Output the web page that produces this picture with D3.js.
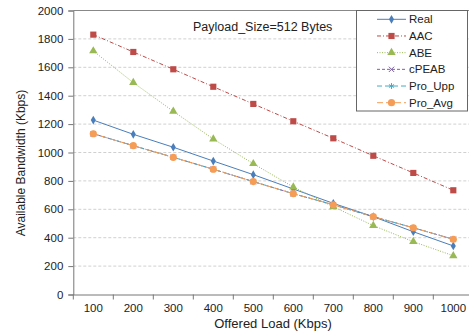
<!DOCTYPE html>
<html lang="en">
<head>
<meta charset="UTF-8">
<title>Available Bandwidth</title>
<style>
    body { margin: 0; background: #fff; }
    text { font-family: "Liberation Sans", Arial, sans-serif; fill: #222; }
    .grid line { stroke: #d0d0d0; stroke-dasharray: 3,2; }
</style>
</head>
<body>
<svg id="chart" width="469" height="335"></svg>
<script src="https://cdn.jsdelivr.net/npm/d3@7"></script>
<script>
    var loads = [100, 200, 300, 400, 500, 600, 700, 800, 900, 1000];
    var yTicks = [0, 200, 400, 600, 800, 1000, 1200, 1400, 1600, 1800, 2000];

    var real   = [1228, 1128, 1037, 940, 844, 743, 642, 548, 442, 342];
    var aac    = [1830, 1708, 1586, 1463, 1342, 1220, 1100, 977, 856, 734];
    var abe    = [1715, 1492, 1290, 1095, 921, 757, 618, 485, 372, 273];
    var cpeab  = [1132, 1048, 966, 882, 795, 710, 632, 548, 470, 389];
    var proUpp = [1132, 1048, 966, 882, 795, 710, 632, 548, 470, 389];
    var proAvg = [1132, 1048, 966, 882, 795, 710, 632, 548, 470, 389];

    var seriesNames = ['Real', 'AAC', 'ABE', 'cPEAB', 'Pro_Upp', 'Pro_Avg'];

    var series = [
        { name: 'Real',    values: real,   color: '#4a7ebb', dash: null,      shape: 'diamond' },
        { name: 'AAC',     values: aac,    color: '#be4b48', dash: '4,2,1,2', shape: 'square' },
        { name: 'ABE',     values: abe,    color: '#98b954', dash: '1,1.5',   shape: 'triangle' },
        { name: 'cPEAB',   values: cpeab,  color: '#7d60a0', dash: '3,2',     shape: 'cross' },
        { name: 'Pro_Upp', values: proUpp, color: '#46aac5', dash: '5,3',     shape: 'star' },
        { name: 'Pro_Avg', values: proAvg, color: '#f59d56', dash: '6,3',     shape: 'circle' }
    ];

    var svg = d3.select('#chart');
    var pLeft = 73.3, pRight = 473.3, pTop = 10.5, pBottom = 294.5;

    var x = d3.scaleBand().domain(loads).range([pLeft, pRight]);
    var y = d3.scaleLinear().domain([0, 2000]).range([pBottom, pTop]);
    var cx = function (d) { return x(d) + x.bandwidth() / 2; };

    // gridlines
    svg.append('g').attr('class', 'grid')
        .selectAll('line')
        .data(yTicks.slice(1, -1))
        .enter().append('line')
        .attr('x1', pLeft).attr('x2', pRight)
        .attr('y1', d => y(d)).attr('y2', d => y(d));

    // plot border top / right
    svg.append('path')
        .attr('d', 'M' + pLeft + ',' + pTop + 'H' + pRight + 'V' + pBottom)
        .attr('fill', 'none').attr('stroke', '#888');

    // y axis
    var yAxis = svg.append('g')
        .attr('transform', 'translate(' + pLeft + ',0)')
        .call(d3.axisLeft(y).tickValues(yTicks).tickFormat(d3.format('d')).tickSize(5).tickPadding(5));
    yAxis.select('.domain').attr('stroke', '#777');
    yAxis.selectAll('.tick line').attr('stroke', '#777');
    yAxis.selectAll('text').style('font-size', '11.5px').attr('fill', '#222');

    // x axis: labels centred in bands, ticks on band boundaries
    var xAxis = svg.append('g')
        .attr('transform', 'translate(0,' + pBottom + ')')
        .call(d3.axisBottom(x).tickSize(0).tickPadding(9));
    xAxis.select('.domain').attr('stroke', '#777');
    xAxis.selectAll('text').style('font-size', '11.5px').attr('fill', '#222');
    xAxis.selectAll('.bound')
        .data(loads.map(d => x(d)).concat([pRight]))
        .enter().append('line')
        .attr('x1', d => d).attr('x2', d => d)
        .attr('y1', 0).attr('y2', 5)
        .attr('stroke', '#777');

    // axis titles
    svg.append('text')
        .attr('x', 273).attr('y', 328)
        .attr('text-anchor', 'middle')
        .style('font-size', '13px')
        .text('Offered Load (Kbps)');

    svg.append('text')
        .attr('transform', 'translate(25,163) rotate(-90)')
        .attr('text-anchor', 'middle')
        .style('font-size', '12px')
        .text('Available Bandwidth (Kbps)');

    svg.append('text')
        .attr('x', 193).attr('y', 31)
        .style('font-size', '12.5px')
        .text('Payload_Size=512 Bytes');

    // marker drawing
    function marker(g, shape, color) {
        if (shape === 'diamond') {
            g.append('path').attr('d', d3.symbol(d3.symbolDiamond, 22)()).attr('fill', color);
        } else if (shape === 'square') {
            g.append('path').attr('d', d3.symbol(d3.symbolSquare, 38)()).attr('fill', color);
        } else if (shape === 'triangle') {
            g.append('path').attr('d', d3.symbol(d3.symbolTriangle, 30)()).attr('fill', color);
        } else if (shape === 'cross') {
            g.append('path').attr('d', d3.symbol(d3.symbolX, 20)())
                .attr('fill', 'none').attr('stroke', color).attr('stroke-width', 1);
        } else if (shape === 'star') {
            g.append('path').attr('d', d3.symbol(d3.symbolAsterisk, 24)())
                .attr('fill', 'none').attr('stroke', color).attr('stroke-width', 1);
        } else {
            g.append('circle').attr('r', 3.6).attr('fill', color);
        }
    }

    var line = d3.line()
        .x((d, i) => cx(loads[i]))
        .y(d => y(d));

    series.forEach(function (s) {
        svg.append('path')
            .attr('d', line(s.values))
            .attr('fill', 'none')
            .attr('stroke', s.color)
            .attr('stroke-width', 1)
            .attr('stroke-dasharray', s.dash);

        s.values.forEach(function (v, i) {
            var g = svg.append('g')
                .attr('transform', 'translate(' + cx(loads[i]) + ',' + y(v) + ')');
            marker(g, s.shape, s.color);
        });
    });

    // legend
    var legend = svg.append('g');
    legend.append('rect')
        .attr('x', 356.5).attr('y', 10.5)
        .attr('width', 111).attr('height', 100.5)
        .attr('fill', '#fff').attr('stroke', '#666');

    var ly = d3.scalePoint().domain(seriesNames).range([19.3, 102.7]);
    series.forEach(function (s) {
        var yy = ly(s.name);
        legend.append('line')
            .attr('x1', 377).attr('x2', 406)
            .attr('y1', yy).attr('y2', yy)
            .attr('stroke', s.color)
            .attr('stroke-dasharray', s.dash);
        var g = legend.append('g').attr('transform', 'translate(391.5,' + yy + ')');
        marker(g, s.shape, s.color);
        legend.append('text')
            .attr('x', 409).attr('y', yy + 4)
            .style('font-size', '11.5px')
            .text(s.name);
    });
</script>
</body>
</html>
